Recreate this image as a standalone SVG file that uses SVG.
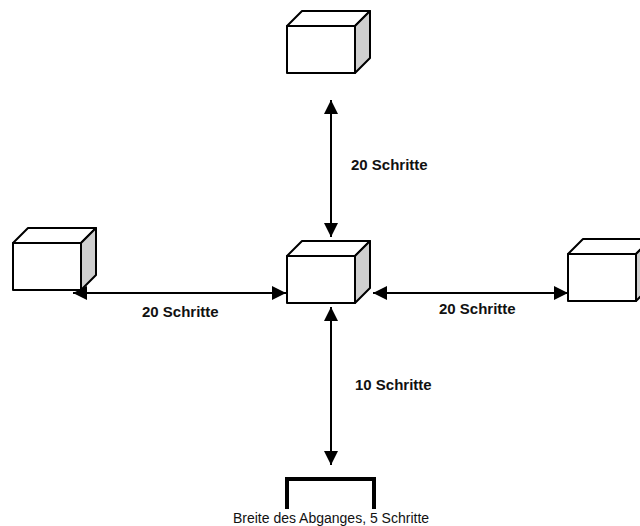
<svg xmlns="http://www.w3.org/2000/svg" width="640" height="526" viewBox="0 0 640 526">
<style>
.f{fill:#fff;stroke:#000;stroke-width:2;stroke-linejoin:round}
.s{fill:#cfcfcf;stroke:#000;stroke-width:2;stroke-linejoin:round}
.c{stroke:#000;stroke-width:2;fill:none}
.lb{font-family:"Liberation Sans",Arial,sans-serif;font-size:15px;font-weight:bold;fill:#111}
.lr{font-family:"Liberation Sans",Arial,sans-serif;font-size:14px;fill:#111}
</style>
<defs>
<marker id="ah" viewBox="0 0 14 14" refX="14" refY="7" markerWidth="14" markerHeight="14" markerUnits="userSpaceOnUse" orient="auto-start-reverse">
<path d="M0,0 L14,7 L0,14 Z" fill="#000"/>
</marker>
<g id="box">
<polygon class="f" points="0,0 15,-15 83,-15 68,0"/>
<polygon class="s" points="68,0 83,-15 83,32 68,47"/>
<rect class="f" x="0" y="0" width="68" height="47"/>
</g>
</defs>
<rect width="640" height="526" fill="#fff"/>
<g id="box-top"><use href="#box" x="287" y="26"/></g>
<g id="box-center"><use href="#box" x="287" y="256"/></g>
<g id="box-left"><use href="#box" x="13" y="243"/></g>
<g id="box-right"><use href="#box" x="568" y="254"/></g>
<g id="exit"><path d="M287,509 V479 H374 V509" fill="none" stroke="#000" stroke-width="4"/></g>
<g id="connectors">
<line class="c" x1="331" y1="100" x2="331" y2="237" marker-start="url(#ah)" marker-end="url(#ah)"/>
<line class="c" x1="73" y1="293" x2="286" y2="293" marker-start="url(#ah)" marker-end="url(#ah)"/>
<line class="c" x1="373" y1="293" x2="568" y2="293" marker-start="url(#ah)" marker-end="url(#ah)"/>
<line class="c" x1="331" y1="307" x2="331" y2="465" marker-start="url(#ah)" marker-end="url(#ah)"/>
</g>
<g id="labels">
<text class="lb" x="351" y="170">20 Schritte</text>
<text class="lb" x="142" y="317">20 Schritte</text>
<text class="lb" x="439" y="314">20 Schritte</text>
<text class="lb" x="355" y="390">10 Schritte</text>
<text class="lr" x="331" y="523" text-anchor="middle">Breite des Abganges, 5 Schritte</text>
</g>
</svg>
